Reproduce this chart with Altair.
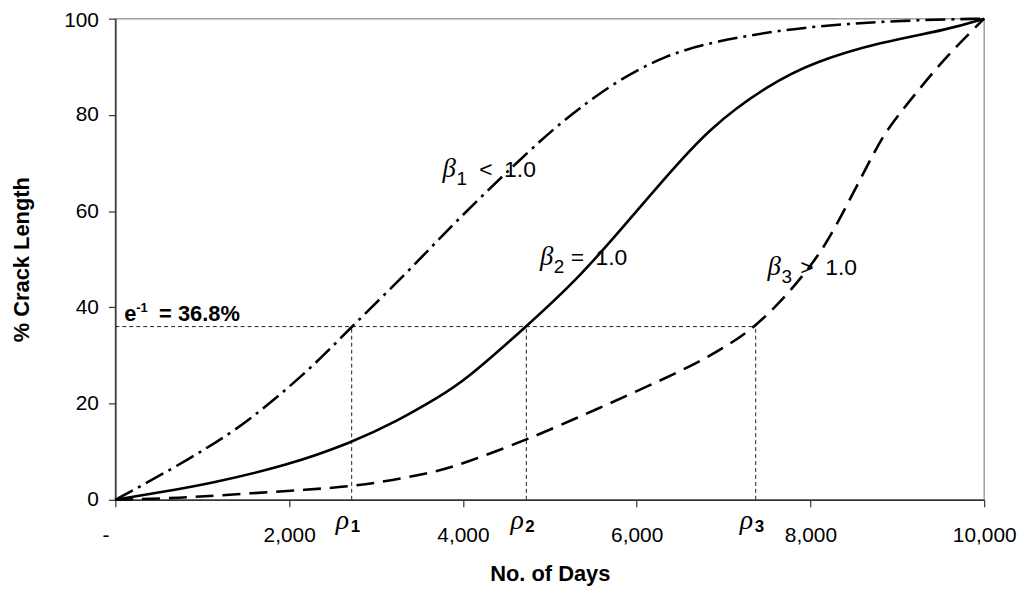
import altair as alt
import pandas as pd

# ---------------- data ----------------
# beta1 < 1.0 (dash-dot)
days_b1 = [0, 400, 847, 1190, 1533, 2220, 2720, 3307, 3745, 4203, 4966, 5343, 5767, 6339, 6911, 7674, 8436, 9199, 10000]
pct_b1 = [0, 3.9, 8.5, 12.3, 16.4, 26.7, 36.0, 46.3, 54.6, 62.9, 76.0, 81.4, 87.0, 92.5, 95.3, 97.7, 99.0, 99.7, 100]

# beta2 = 1.0 (solid)
days_b2 = [0, 500, 1076, 1991, 2720, 3250, 3707, 4013, 4730, 5328, 5843, 6300, 6834, 7521, 8055, 8818, 9580, 10000]
pct_b2 = [0, 1.5, 3.3, 7.2, 11.9, 16.4, 21.2, 24.6, 36.0, 46.0, 56.7, 66.3, 77.3, 86.3, 91.1, 95.2, 97.7, 100]

# beta3 > 1.0 (dashed)
days_b3 = [0, 732, 1457, 2220, 2727, 3173, 3707, 4013, 4730, 5538, 6300, 6700, 7025, 7370, 7712, 8000, 8207, 8500, 8741, 8894, 9199, 9580, 10000]
pct_b3 = [0, 0.35, 1.24, 2.1, 2.8, 4.0, 5.9, 7.6, 12.4, 18.8, 25.0, 28.5, 31.8, 36.0, 42.2, 48.5, 53.9, 64.0, 72.5, 77.3, 84.2, 92.5, 100]

# characteristic lives rho and the e^-1 level
rho_days = [2720, 4730, 7370]
rho_subs = ["1", "2", "3"]
ref_pct = 36.0

# axis ticks
x_ticks = [0, 2000, 4000, 6000, 8000, 10000]
y_ticks = [0, 20, 40, 60, 80, 100]

# annotation anchors (data coordinates)
beta_days = [3765, 4886, 7506]
beta_pct = [67.0, 48.8, 46.7]
beta_subs = ["1", "2", "3"]
beta_ops = ["<", "=", ">"]
beta_vals = ["1.0", "1.0", "1.0"]
e_days = [103]
e_pct = [37.2]
rho_label_pct = -6.0

# ---------------- chart ----------------
FONT = "Liberation Sans"
SERIF = "Liberation Serif"

xs = alt.Scale(domain=[0, 10000], nice=False, zero=False)
ys = alt.Scale(domain=[0, 100], nice=False, zero=False)

x_axis = alt.Axis(
    values=x_ticks,
    labelExpr="datum.value == 0 ? '-' : format(datum.value, ',')",
    labelOffset={"condition": {"test": "datum.value == 0", "value": -10}, "value": 0},
    grid=False, tickSize=7, tickColor="#333333", tickWidth=1.2,
    domainColor="#333333", domainWidth=1.5,
    labelFont=FONT, labelFontSize=21, labelColor="black", labelPadding=18,
    labelFlush=False, labelOverlap=False,
    title="No. of Days", titleFont=FONT, titleFontSize=22, titleFontWeight="bold",
    titleColor="black", titlePadding=18,
)
y_axis = alt.Axis(
    values=y_ticks,
    labelOffset={"condition": {"test": "datum.value == 100", "value": 2}, "value": 0},
    grid=False, tickSize=7, tickColor="#333333", tickWidth=1.2,
    domainColor="#333333", domainWidth=1.5,
    labelFont=FONT, labelFontSize=21, labelColor="black", labelPadding=10,
    labelFlush=False, labelOverlap=False,
    title="% Crack Length", titleFont=FONT, titleFontSize=22, titleFontWeight="bold",
    titleColor="black", titlePadding=30,
)


def X(field="days"):
    return alt.X(f"{field}:Q", scale=xs, axis=x_axis, title="No. of Days")


def Y(field="pct"):
    return alt.Y(f"{field}:Q", scale=ys, axis=y_axis, title="% Crack Length")


def curve(days, pct, dash):
    df = pd.DataFrame({"days": days, "pct": pct})
    kw = dict(color="black", strokeWidth=2.6, interpolate="basis")
    if dash:
        kw["strokeDash"] = dash
    return alt.Chart(df).mark_line(**kw).encode(x=X(), y=Y())


def text_layer(df, field, dx=0, dy=0, font=FONT, size=21, style="normal", weight="normal", align="left"):
    return alt.Chart(df).mark_text(
        align=align, baseline="alphabetic", dx=dx, dy=dy, font=font, fontSize=size,
        fontStyle=style, fontWeight=weight, color="black",
    ).encode(x=X(), y=Y(), text=alt.Text(f"{field}:N"))


layers = []

# reference dotted lines
h_df = pd.DataFrame({"days": [0], "days2": [rho_days[-1]], "pct": [ref_pct]})
layers.append(
    alt.Chart(h_df).mark_rule(color="#222222", strokeWidth=1, strokeDash=[4, 3]).encode(
        x=X(), x2=alt.X2("days2:Q"), y=Y()
    )
)
v_df = pd.DataFrame({"days": rho_days, "pct": [0] * len(rho_days), "pct2": [ref_pct] * len(rho_days)})
layers.append(
    alt.Chart(v_df).mark_rule(color="#222222", strokeWidth=1, strokeDash=[4, 3]).encode(
        x=X(), y=Y(), y2=alt.Y2("pct2:Q")
    )
)

# curves
layers.append(curve(days_b1, pct_b1, [20, 6, 3, 6]))
layers.append(curve(days_b2, pct_b2, None))
layers.append(curve(days_b3, pct_b3, [18, 9]))

# beta labels
beta_sub_dx = [14, 14, 14]
beta_op_dx = [37, 31, 33]
for i in range(3):
    df = pd.DataFrame({"days": [beta_days[i]], "pct": [beta_pct[i]],
                       "g": ["β"], "s": [beta_subs[i]], "o": [beta_ops[i]], "v": [beta_vals[i]]})
    layers.append(text_layer(df, "g", font=SERIF, size=27, style="italic"))
    layers.append(text_layer(df, "s", dx=beta_sub_dx[i], dy=8, size=19))
    layers.append(text_layer(df, "o", dx=beta_op_dx[i], size=23))
    layers.append(text_layer(df, "v", dx=beta_op_dx[i] + 25, size=23))

# e^-1 label
e_df = pd.DataFrame({"days": e_days, "pct": e_pct, "a": ["e"], "b": ["-1"], "c": ["= 36.8%"]})
layers.append(text_layer(e_df, "a", size=22, weight="bold"))
layers.append(text_layer(e_df, "b", dx=12, dy=-9, size=13, weight="bold"))
layers.append(text_layer(e_df, "c", dx=35, size=22, weight="bold"))

# rho labels below the axis
rho_df = pd.DataFrame({"days": rho_days, "pct": [rho_label_pct] * 3, "g": ["ρ"] * 3, "s": rho_subs})
layers.append(text_layer(rho_df, "g", dx=-16, font=SERIF, size=28, style="italic"))
layers.append(text_layer(rho_df, "s", dx=-1, dy=3, size=17, weight="bold"))

chart = alt.layer(*layers).properties(
    width=874,
    height=484,
    autosize=alt.AutoSizeParams(type="none"),
    padding={"left": 108, "top": 9, "right": 34, "bottom": 86},
    background="white",
).configure_view(stroke="#a0a0a0", strokeWidth=1.5)

chart.save("out.html", embed_options={"renderer": "svg", "actions": False})
